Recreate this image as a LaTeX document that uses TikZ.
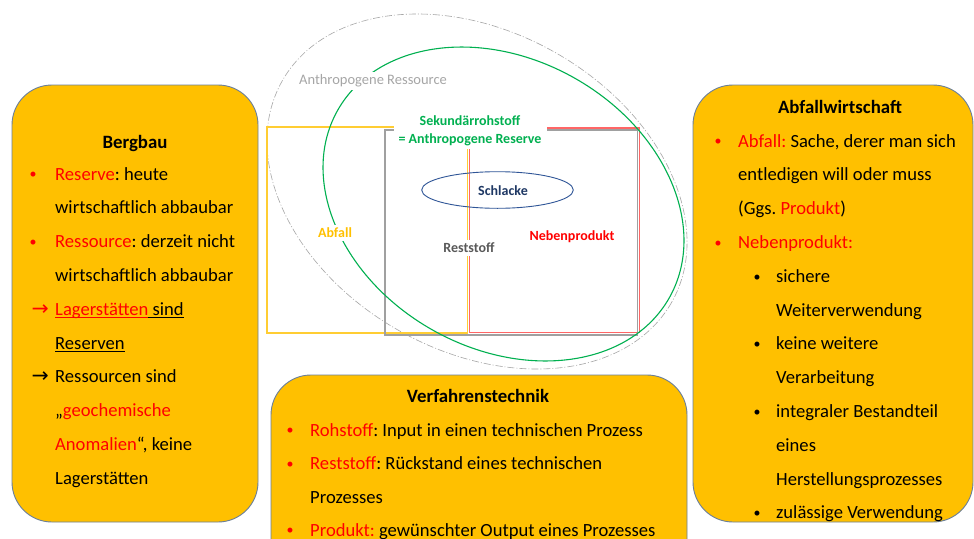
\documentclass[tikz,border=0pt]{standalone}
\usepackage{fontspec}
\setmainfont{Carlito}
\newfontfamily\arrowfont{DejaVu Sans}
\definecolor{boxfill}{HTML}{FFC000}
\definecolor{boxline}{HTML}{6A7F9A}
\definecolor{kred}{HTML}{FF0000}
\definecolor{kgreen}{HTML}{00B050}
\definecolor{knavy}{HTML}{1F3864}
\definecolor{kblue}{HTML}{2F5597}
\definecolor{kgray}{HTML}{595959}
\definecolor{klight}{HTML}{A6A6A6}
\definecolor{rectgray}{HTML}{A0A0A0}
\frenchspacing
\newcommand{\bulsym}{\raisebox{1.2pt}{\fontsize{14}{16}\selectfont •}}
\newcommand{\rbul}{\textcolor{kred}{\bulsym}}
\newcommand{\ulin}[1]{\setbox0\hbox{#1}\rlap{\rule[-2.6pt]{\wd0}{1pt}}\box0}
\newcommand{\arr}{{\arrowfont\fontsize{20.5}{22}\selectfont →}}
\tikzset{
  infobox/.style={fill=boxfill, draw=boxline, line width=0.9pt, rounded corners=40pt},
  ln/.style={anchor=base west, inner sep=0pt, font=\fontsize{18.6}{22}\selectfont},
  bul/.style={anchor=base, inner sep=0pt, font=\fontsize{18.6}{22}\selectfont},
  ttl/.style={anchor=base, inner sep=0pt, font=\fontsize{18.8}{22}\selectfont\bfseries},
  lbl/.style={fill=white, inner sep=3pt, font=\fontsize{14}{18}\selectfont\bfseries},
  lblreg/.style={fill=white, inner sep=3pt, font=\fontsize{14.5}{18}\selectfont},
}
\begin{document}
\begin{tikzpicture}[x=1pt,y=-1pt]
\useasboundingbox (0,0) rectangle (974,538);
\clip (0,0) rectangle (974,538);
\fill[white] (0,0) rectangle (974,538);

% ---------- centre diagram ----------
\draw[klight, line width=0.6pt, dash pattern=on 7pt off 2pt on 1pt off 2pt,
      rotate around={-29.7:(477,191.5)}] (477,191.5) ellipse [x radius=224, y radius=159.5];
\draw[boxfill!80, line width=1.3pt] (267,127) rectangle (467.5,333);
\draw[kred!60, line width=1.6pt] (469.5,128) rectangle (639.5,332.5);
\draw[rectgray, line width=1.3pt] (385,130) rectangle (637.5,335);
\draw[kgreen, line width=1.1pt,
      rotate around={-29.5:(503.5,204)}] (503.5,204) ellipse [x radius=190.5, y radius=144.6];
\draw[kblue, line width=0.9pt] (497.5,190) ellipse [x radius=75.8, y radius=18.3];

\node[lblreg, text=klight] (ar) at (373,81) {Anthropogene Ressource};
\node[lbl, text=kgreen, align=center, inner xsep=5pt] (sk) at (470,131) {Sekundärrohstoff\\= Anthropogene Reserve};
\node[lbl, text=knavy] (sl) at (503,191) {Schlacke};
\node[lbl, text=boxfill] (ab) at (335,233) {Abfall};
\node[lbl, text=kgray] (rs) at (469,248) {Reststoff};
\node[lbl, text=kred] (nb) at (572,237) {Nebenprodukt};

% ---------- Bergbau ----------
\draw[infobox] (12,85) rectangle (258,522);
\node[ttl] (bt) at (135,148) {Bergbau};
\node[bul] (bb1) at (33,180) {\rbul};
\node[ln] (bl1) at (55,180) {\textcolor{kred}{Reserve}: heute};
\node[ln] (bl2) at (55,213.8) {wirtschaftlich abbaubar};
\node[bul] (bb3) at (33,247.6) {\rbul};
\node[ln] (bl3) at (55,247.6) {\textcolor{kred}{Ressource}: derzeit nicht};
\node[ln] (bl4) at (55,281.4) {wirtschaftlich abbaubar};
\node[ln] (bb5) at (31.5,315.2) {\textcolor{kred}{\arr}};
\node[ln] (bl5) at (55,315.2) {\textcolor{kred}{\ulin{Lagerstätten}}\ulin{ sind}};
\node[ln] (bl6) at (55,349) {\ulin{Reserven}};
\node[ln] (bb7) at (31.5,382.8) {\arr};
\node[ln] (bl7) at (55,382.8) {Ressourcen sind};
\node[ln] (bl8) at (55,416.6) {„\textcolor{kred}{geochemische}};
\node[ln] (bl9) at (55,450.4) {\textcolor{kred}{Anomalien}“, keine};
\node[ln] (bl10) at (55,484.2) {Lagerstätten};

% ---------- Verfahrenstechnik ----------
\draw[infobox] (271,375) rectangle (687,590);
\node[ttl] (vt) at (478,402) {Verfahrenstechnik};
\node[bul] (vb1) at (290,436) {\rbul};
\node[ln] (vl1) at (310,436) {\textcolor{kred}{Rohstoff}: Input in einen technischen Prozess};
\node[bul] (vb2) at (290,469.8) {\rbul};
\node[ln] (vl2) at (310,469.8) {\textcolor{kred}{Reststoff}: Rückstand eines technischen};
\node[ln] (vl3) at (310,503.6) {Prozesses};
\node[bul] (vb4) at (290,536) {\rbul};
\node[ln] (vl4) at (310,536) {\textcolor{kred}{Produkt:} gewünschter Output eines Prozesses};

% ---------- Abfallwirtschaft ----------
\draw[infobox] (693,85) rectangle (973,522);
\node[ttl] (at) at (840,113) {Abfallwirtschaft};
\node[bul] (ab1) at (718,147) {\rbul};
\node[ln] (al1) at (738,147) {\textcolor{kred}{Abfall:} Sache, derer man sich};
\node[ln] (al2) at (738,180.8) {entledigen will oder muss};
\node[ln] (al3) at (738,214.6) {(Ggs. \textcolor{kred}{Produkt})};
\node[bul] (ab4) at (718,248.4) {\rbul};
\node[ln] (al4) at (738,248.4) {\textcolor{kred}{Nebenprodukt:}};
\node[bul] (ab5) at (757,282.2) {\bulsym};
\node[ln] (al5) at (776,282.2) {sichere};
\node[ln] (al6) at (776,316) {Weiterverwendung};
\node[bul] (ab7) at (757,349.8) {\bulsym};
\node[ln] (al7) at (776,349.8) {keine weitere};
\node[ln] (al8) at (776,383.6) {Verarbeitung};
\node[bul] (ab9) at (757,417.4) {\bulsym};
\node[ln] (al9) at (776,417.4) {integraler Bestandteil};
\node[ln] (al10) at (776,451.2) {eines};
\node[ln] (al11) at (776,485) {Herstellungsprozesses};
\node[bul] (ab12) at (757,518.8) {\bulsym};
\node[ln] (al12) at (776,518.8) {zulässige Verwendung};
\end{tikzpicture}
\end{document}
